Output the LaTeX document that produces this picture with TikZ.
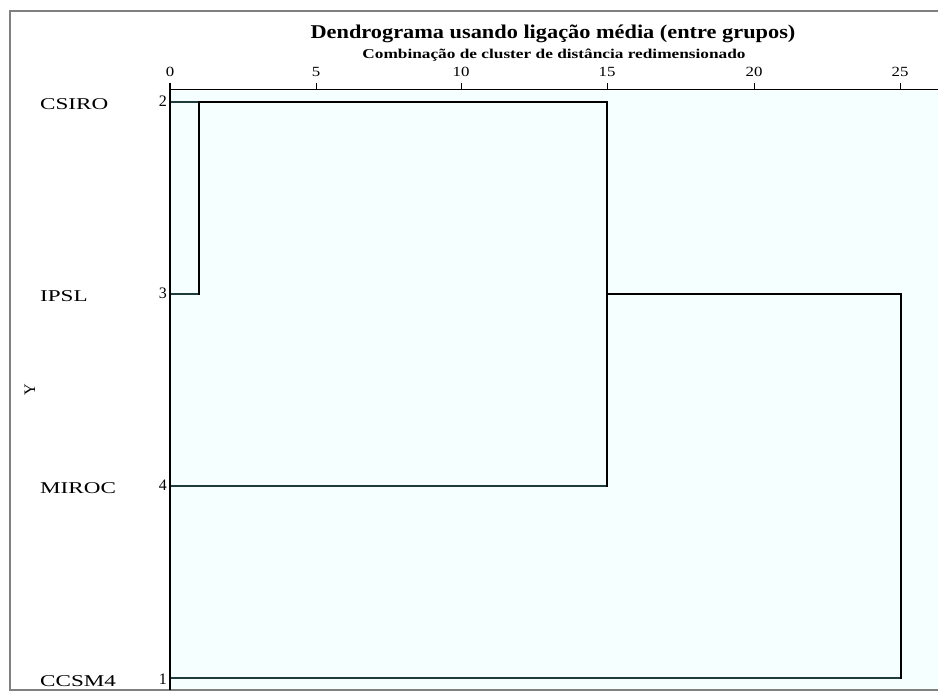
\documentclass[tikz,border=0pt]{standalone}
\usepackage{fontspec}
\usepackage{graphicx}
\setmainfont{Liberation Serif}
\definecolor{plotbg}{RGB}{245,255,255}
\definecolor{frame}{RGB}{128,128,128}
\definecolor{leafc}{RGB}{30,60,60}
\newcommand{\hsc}[2]{\scalebox{#1}[1]{#2}}
\begin{document}
\begin{tikzpicture}[x=1pt,y=-1pt,
  lbl/.style={font=\fontsize{16.5}{16.5}\selectfont,inner sep=0pt,anchor=base west},
  num/.style={font=\fontsize{16}{16}\selectfont,inner sep=0pt,anchor=base east},
  tick/.style={font=\fontsize{14}{14}\selectfont,inner sep=0pt,anchor=base},
  leaf/.style={draw=leafc,line width=1.3pt},
  merge/.style={draw=black,line width=2.2pt},
  axisline/.style={draw=black,line width=1pt}]
\useasboundingbox (0,0) rectangle (938,692);
\fill[white] (0,0) rectangle (938,692);
% plot area
\fill[plotbg] (170,91) rectangle (938,690);
% outer frame
\draw[frame,line width=2pt] (938,11) -- (10,11) -- (10,690) -- (938,690);
% titles
\node[font=\fontsize{19.5}{19.5}\selectfont\bfseries,inner sep=0pt,anchor=base] (title) at (553,39) {\hsc{1.145}{Dendrograma usando ligação média (entre grupos)}};
\node[font=\fontsize{13.5}{13.5}\selectfont\bfseries,inner sep=0pt,anchor=base] (subtitle) at (554,59) {\hsc{1.28}{Combinação de cluster de distância redimensionado}};
% axis
\draw[axisline] (170,90) -- (938,90);
\foreach \v/\x in {0/170,5/316,10/461,15/607,20/754,25/900}{
  \draw[black,line width=1pt] (\x,83) -- (\x,90);
  \node[tick] (t\v) at (\x,77) {\hsc{1.2}{\v}};
}
\draw[black,line width=2pt] (170,83) -- (170,690);
% labels
\node[lbl] (nCSIRO) at (40,110) {\hsc{1.4}{CSIRO}};
\node[lbl] (nIPSL) at (40,302) {\hsc{1.4}{IPSL}};
\node[lbl] (nMIROC) at (40,494) {\hsc{1.4}{MIROC}};
\node[lbl] (nCCSM) at (40,686) {\hsc{1.4}{CCSM4}};
\node[num] (k2) at (167,107) {2};
\node[num] (k3) at (167,299) {3};
\node[num] (k4) at (167,491) {4};
\node[num] (k1) at (167,684) {1};
\node[font=\fontsize{16}{16}\selectfont,rotate=90,inner sep=0pt] (ylab) at (30,390) {Y};
% coordinates
\coordinate (L2) at (171,102);
\coordinate (L3) at (171,294);
\coordinate (L4) at (171,486);
\coordinate (L1) at (171,678);
\coordinate (A2) at (199,102);
\coordinate (A3) at (199,294);
\coordinate (B2) at (607,102);
\coordinate (B4) at (607,486);
\coordinate (B3) at (607,294);
\coordinate (C3) at (901,294);
\coordinate (C1) at (901,678);
% leaves
\draw[leaf] (L2) -- (A2);
\draw[leaf] (L3) -- (A3);
\draw[leaf] (L4) -- (B4);
\draw[leaf] (L1) -- (C1);
% merges
\draw[merge,line cap=rect] (A3) -- (A2) -- (B2) -- (B4);
\draw[merge,line cap=rect] (B3) -- (C3) -- (C1);
\end{tikzpicture}
\end{document}
